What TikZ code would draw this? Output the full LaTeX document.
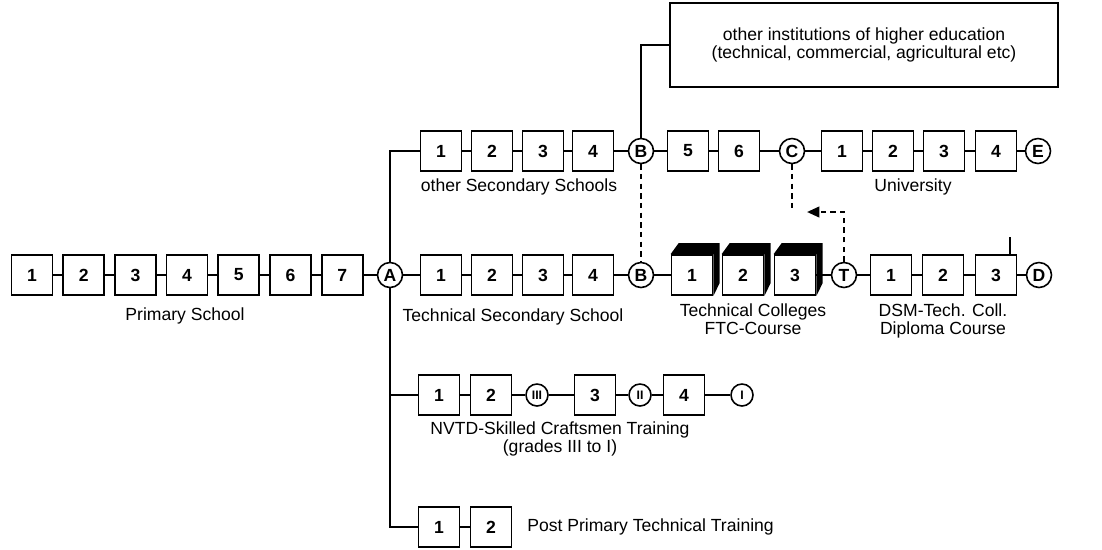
\documentclass[tikz,border=0pt]{standalone}
\usepackage{fontspec}
\setmainfont{Liberation Sans}
\usetikzlibrary{arrows.meta,positioning}
\tikzset{
  yearbox/.style={draw, line width=1pt, fill=white, minimum width=0.82cm,
                  minimum height=0.8cm, inner sep=0pt, font=\bfseries},
  stagept/.style={circle, draw, line width=0.9pt, fill=white, minimum size=0.5cm,
                  inner sep=0pt, font=\bfseries},
  gradept/.style={stagept, minimum size=0.44cm, font=\bfseries\scriptsize},
  link/.style={line width=0.8pt},
  bus/.style={line width=1.2pt},
  hop/.style={line width=1.3pt, dash pattern=on 3pt off 2.5pt},
  rowlabel/.style={font=\fontsize{10}{10.5}\selectfont, align=center, inner sep=0pt},
}

\begin{document}
\begin{tikzpicture}[x=0.02cm, y=-0.02cm]
 \useasboundingbox (0,0) rectangle (1102,549);
 % primary school
 \foreach \i in {1,...,7}
   \node[yearbox] (ps\i) at ({32+51.7*(\i-1)},275) {\i};
 \foreach \i in {1,...,6}{
   \pgfmathtruncatemacro{\j}{\i+1}
   \draw[link] (ps\i) -- (ps\j);
 }
 \node[stagept] (A) at (390,275) {A};
 \draw[link] (ps7) -- (A);
 \node[rowlabel] (psLab) at (185,316) {Primary School};

 % other secondary schools and university
 \foreach \i/\x in {1/441,2/492,3/543,4/593,5/688,6/739}
   \node[yearbox] (os\i) at (\x,151) {\i};
 \node[stagept] (B1) at (641,151) {B};
 \node[stagept] (C) at (792,151) {C};
 \foreach \i/\x in {1/842,2/893,3/944,4/996}
   \node[yearbox] (un\i) at (\x,151) {\i};
 \node[stagept] (E) at (1038,151) {E};
 \draw[link] (os1) -- (os2) -- (os3) -- (os4) -- (B1) -- (os5) -- (os6) -- (C)
   -- (un1) -- (un2) -- (un3) -- (un4) -- (E);
 \node[rowlabel] (osLab) at (519,187) {other Secondary Schools};
 \node[rowlabel] (unLab) at (913,187) {University};
 \node[rowlabel, draw, line width=0.9pt, minimum width=7.76cm, minimum height=1.68cm]
   (inst) at (864,45) {other institutions of higher education\\
                       (technical, commercial, agricultural etc)};
 \draw[link] (B1.north) |- (inst.west);

 % technical line
 \foreach \i/\x in {1/441,2/492,3/543,4/593}
   \node[yearbox] (ts\i) at (\x,275) {\i};
 \node[stagept] (B2) at (641,275) {B};
 \foreach \i/\x in {1/692,2/743,3/795}{
   \node[yearbox] (tc\i) at (\x,275) {\i};
   \fill (tc\i.north west) -- ++(8,-11) -- ++(41,0) -- ++(0,40)
     -- (tc\i.south east) -- (tc\i.north east) -- cycle;
 }
 \node[stagept] (T) at (844,275) {T};
 \foreach \i/\x in {1/891,2/943,3/996}
   \node[yearbox] (dc\i) at (\x,275) {\i};
 \node[stagept] (D) at (1039,275) {D};
 \draw[link] (A) -- (ts1) -- (ts2) -- (ts3) -- (ts4) -- (B2) -- (tc1);
 \draw[link] (tc3) -- (T) -- (dc1) -- (dc2) -- (dc3) -- (D);
 \coordinate (stub) at (1010,237);
 \draw[link] (dc3.north -| stub) -- (stub);
 \node[rowlabel] (tsLab) at (513,317) {Technical Secondary School};
 \node[rowlabel] (tcLab) at (753,319) {Technical Colleges\\FTC-Course};
 \node[rowlabel] (dcLab) at (943,321) {DSM-Tech. Coll.\\Diploma Course};

 % crossings between the lines
 \coordinate (cEnd) at (792,210);
 \coordinate (tArr) at (807,212);
 \draw[hop] (B1) -- (B2);
 \draw[hop] (C) -- (cEnd);
 \draw[hop, -{Triangle[length=7pt,width=6pt]}] (T) |- (tArr);

 % craftsmen training
 \foreach \i/\x in {1/439,2/491}
   \node[yearbox] (nv\i) at (\x,395) {\i};
 \node[gradept] (g3) at (537,395) {III};
 \node[yearbox] (nv3) at (595,395) {3};
 \node[gradept] (g2) at (640,395) {II};
 \node[yearbox] (nv4) at (684,395) {4};
 \node[gradept] (g1) at (742,395) {I};
 \draw[link] (nv1) -- (nv2) -- (g3) -- (nv3) -- (g2) -- (nv4) -- (g1);
 \node[rowlabel] (nvLab) at (560,439) {NVTD-Skilled Craftsmen Training\\(grades III to I)};

 % post primary
 \foreach \i/\x in {1/439,2/491}
   \node[yearbox] (pp\i) at (\x,527) {\i};
 \draw[link] (pp1) -- (pp2);
 \node[rowlabel, anchor=west] (ppLab) at (527,527) {Post Primary Technical Training};

 % branching line
 \draw[bus] (A.north) |- (os1);
 \draw[bus] (A.south) |- (nv1);
 \draw[bus] (A.south) |- (pp1);
\end{tikzpicture}
\end{document}
